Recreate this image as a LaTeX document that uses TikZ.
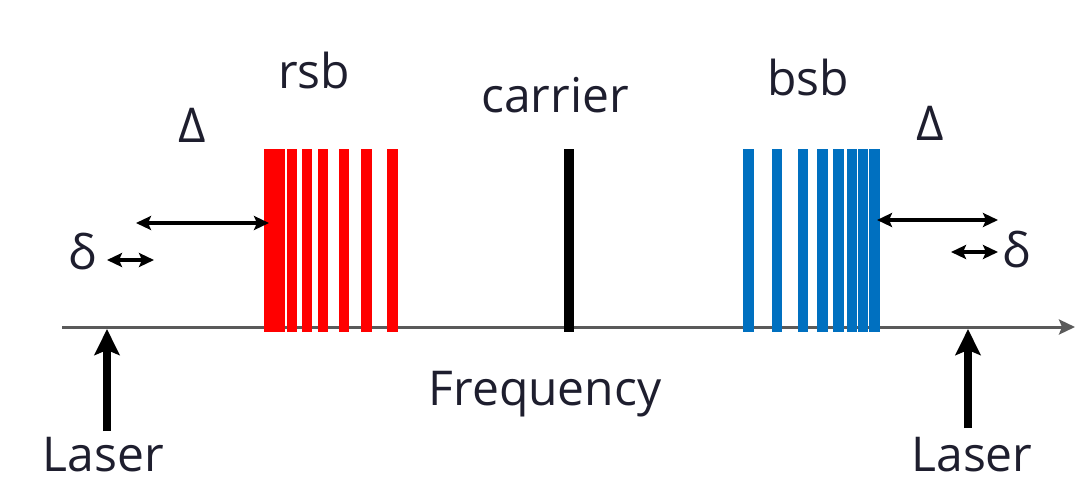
\documentclass[tikz,border=0pt]{standalone}
\usepackage{fontspec}
\setmainfont{Open Sans}
\usetikzlibrary{arrows.meta}
\definecolor{ink}{RGB}{30,30,46}
\definecolor{axisgray}{RGB}{90,90,90}
\definecolor{rsbred}{RGB}{255,0,0}
\definecolor{bsbblue}{RGB}{0,112,192}
\tikzset{
  lbl/.style={font=\fontsize{48}{50}\selectfont, text=ink, inner sep=0pt, anchor=base},
  bar/.style={minimum width=10.5pt, minimum height=183pt, inner sep=0pt, outer sep=0pt, draw=none},
  rbar/.style={bar, fill=rsbred},
  bbar/.style={bar, fill=bsbblue},
  cbar/.style={bar, minimum width=10pt, fill=black},
  gap/.style={line width=3.2pt, {Stealth[length=15pt,width=14pt,inset=3pt]}-{Stealth[length=15pt,width=14pt,inset=3pt]}},
  laserarrow/.style={line width=7.5pt, -{Stealth[length=26pt,width=25pt,inset=5pt]}},
  axis/.style={axisgray, line width=3pt, -{Stealth[length=16pt,width=15pt,inset=3pt]}}
}
\begin{document}
\begin{tikzpicture}[x=1pt, y=-1pt]
\useasboundingbox (0,0) rectangle (1075,477);

% frequency axis
\coordinate (axL) at (62,327);
\coordinate (axR) at (1075,327);
\draw[axis] (axL) -- (axR);
\node[lbl] (freq) at (545,405) {Frequency};

% red sidebands
\foreach \x [count=\i] in {269.5,280,292,307,323,344,366.5,392.5}
  \node[rbar] (r\i) at (\x,240.5) {};
\node[lbl] (rsb) at (314,88) {rsb};

% carrier
\node[cbar] (car) at (568.5,240.5) {};
\node[lbl] (carrier) at (555,112) {carrier};

% blue sidebands
\foreach \x [count=\i] in {748.5,777,803,822.5,838.5,852,863,874.5}
  \node[bbar] (b\i) at (\x,240.5) {};
\node[lbl] (bsb) at (808,95) {bsb};

% laser on the red side
\coordinate (lasL) at (107,431);
\coordinate (hitL) at (107,329);
\draw[laserarrow] (lasL) -- (hitL);
\node[lbl, text depth=0pt] (laserL) at (103.5,471) {Laser};

% laser on the blue side
\coordinate (lasR) at (968,428);
\coordinate (hitR) at (968,329);
\draw[laserarrow] (lasR) -- (hitR);
\node[lbl, text depth=0pt] (laserR) at (972,471) {Laser};

% detunings on the red side
\node[lbl] (DeltaL) at (192.5,142) {Δ};
\coordinate (DLa) at (136,223);
\coordinate (DLb) at (269,223);
\draw[gap] (DLa) -- (DLb);
\node[lbl] (deltaL) at (82,269) {δ};
\coordinate (dLa) at (107,260);
\coordinate (dLb) at (154,260);
\draw[gap] (dLa) -- (dLb);

% detunings on the blue side
\node[lbl] (DeltaR) at (930,140) {Δ};
\coordinate (DRa) at (877,220);
\coordinate (DRb) at (998,220);
\draw[gap] (DRa) -- (DRb);
\node[lbl] (deltaR) at (1016,267) {δ};
\coordinate (dRa) at (951,252);
\coordinate (dRb) at (998,252);
\draw[gap] (dRa) -- (dRb);
\end{tikzpicture}
\end{document}
